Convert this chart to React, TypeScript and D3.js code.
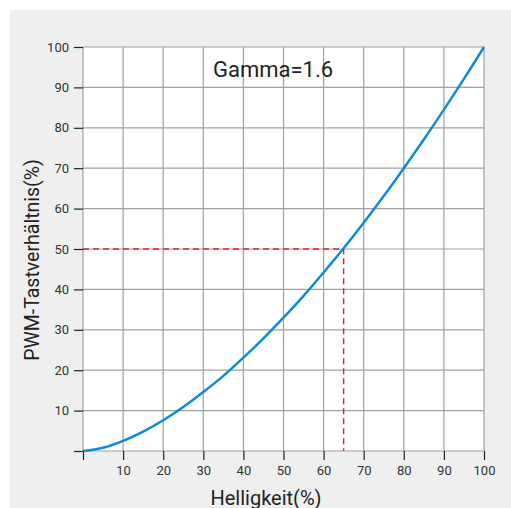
import React, { useEffect, useRef } from 'react';
import * as d3 from 'd3';

// brightness (%) vs. duty cycle (%)
const brightness = [0, 5, 10, 15, 20, 25, 30, 35, 40, 45, 50, 55, 60, 65, 70, 75, 80, 85, 90, 95, 100];
const dutyCycle = [0, 0.8, 2.5, 4.8, 7.6, 10.9, 14.6, 18.6, 23.1, 27.9, 33.0, 38.4, 44.2, 50.2, 56.5, 63.1, 70.0, 77.1, 84.5, 92.1, 100];

const xTicks = [0, 10, 20, 30, 40, 50, 60, 70, 80, 90, 100];
const yTicks = [0, 10, 20, 30, 40, 50, 60, 70, 80, 90, 100];

const marker = { x: 65, y: 50 };
const title = 'Gamma=1.6';
const xLabel = 'Helligkeit(%)';
const yLabel = 'PWM-Tastverhältnis(%)';

const App: React.FC = () => {
  const ref = useRef<SVGSVGElement | null>(null);

  useEffect(() => {
    if (!ref.current) return;
    const svg = d3.select(ref.current);
    svg.selectAll('*').remove();

    const W = 511;
    const H = 508;
    const left = 83, right = 484, top = 47, bottom = 451;
    const font = 'Roboto, "Noto Sans", sans-serif';

    // page background
    svg.append('rect').attr('width', W).attr('height', H).attr('fill', '#ffffff');
    svg.append('rect').attr('x', 10).attr('y', 10).attr('width', W - 10).attr('height', H - 10).attr('fill', '#efefef');

    const x = d3.scaleLinear().domain([0, 100]).range([left, right]);
    const y = d3.scaleLinear().domain([0, 100]).range([bottom, top]);

    // plot area
    svg.append('rect')
      .attr('x', left).attr('y', top)
      .attr('width', right - left).attr('height', bottom - top)
      .attr('fill', '#ffffff');

    // grid
    const grid = svg.append('g');
    grid.selectAll('.vx').data(xTicks).enter().append('line')
      .attr('x1', (d) => x(d)).attr('x2', (d) => x(d))
      .attr('y1', top).attr('y2', bottom)
      .attr('stroke', '#a0a0a0').attr('stroke-width', 1.2);
    grid.selectAll('.hy').data(yTicks).enter().append('line')
      .attr('y1', (d) => y(d)).attr('y2', (d) => y(d))
      .attr('x1', left).attr('x2', right)
      .attr('stroke', '#a0a0a0').attr('stroke-width', 1.2);

    // axes
    const xAxis = svg.append('g')
      .attr('transform', `translate(0,${bottom})`)
      .call(d3.axisBottom(x).tickValues(xTicks).tickSize(9).tickPadding(6)
        .tickFormat((d) => (+d === 0 ? '' : String(d))));
    const yAxis = svg.append('g')
      .attr('transform', `translate(${left},0)`)
      .call(d3.axisLeft(y).tickValues(yTicks).tickSize(9).tickPadding(5)
        .tickFormat((d) => (+d === 0 ? '' : String(d))));

    [xAxis, yAxis].forEach((a) => {
      a.select('.domain').remove();
      a.selectAll('line').attr('stroke', '#222').attr('stroke-width', 1.2);
      a.selectAll('text')
        .style('font-family', font)
        .style('font-size', '13px')
        .attr('fill', '#333');
    });

    // marker dashed lines
    svg.append('path')
      .attr('d', `M${x(0)},${y(marker.y)}H${x(marker.x)}V${y(0)}`)
      .attr('fill', 'none')
      .attr('stroke', '#d9202f')
      .attr('stroke-width', 1.4)
      .attr('stroke-dasharray', '6,4');

    // gamma curve
    const line = d3.line<number>()
      .x((d) => x(d))
      .y((_, i) => y(dutyCycle[i]))
      .curve(d3.curveMonotoneX);
    svg.append('path')
      .datum(brightness)
      .attr('d', line)
      .attr('fill', 'none')
      .attr('stroke', '#0a8ad8')
      .attr('stroke-width', 2.4);

    // title
    svg.append('text')
      .attr('x', 213).attr('y', 77)
      .text(title)
      .style('font-family', font)
      .style('font-size', '22px')
      .attr('fill', '#222');

    // axis labels
    svg.append('text')
      .attr('x', 266).attr('y', 505)
      .attr('text-anchor', 'middle')
      .text(xLabel)
      .style('font-family', font)
      .style('font-size', '20px')
      .attr('fill', '#222');

    svg.append('text')
      .attr('transform', `translate(39,260) rotate(-90)`)
      .attr('text-anchor', 'middle')
      .text(yLabel)
      .style('font-family', font)
      .style('font-size', '19.5px')
      .attr('fill', '#222');
  }, []);

  return (
    <svg
      ref={ref}
      width={511}
      height={508}
      style={{ position: 'absolute', left: 0, top: 0, display: 'block' }}
    />
  );
};

export default App;
